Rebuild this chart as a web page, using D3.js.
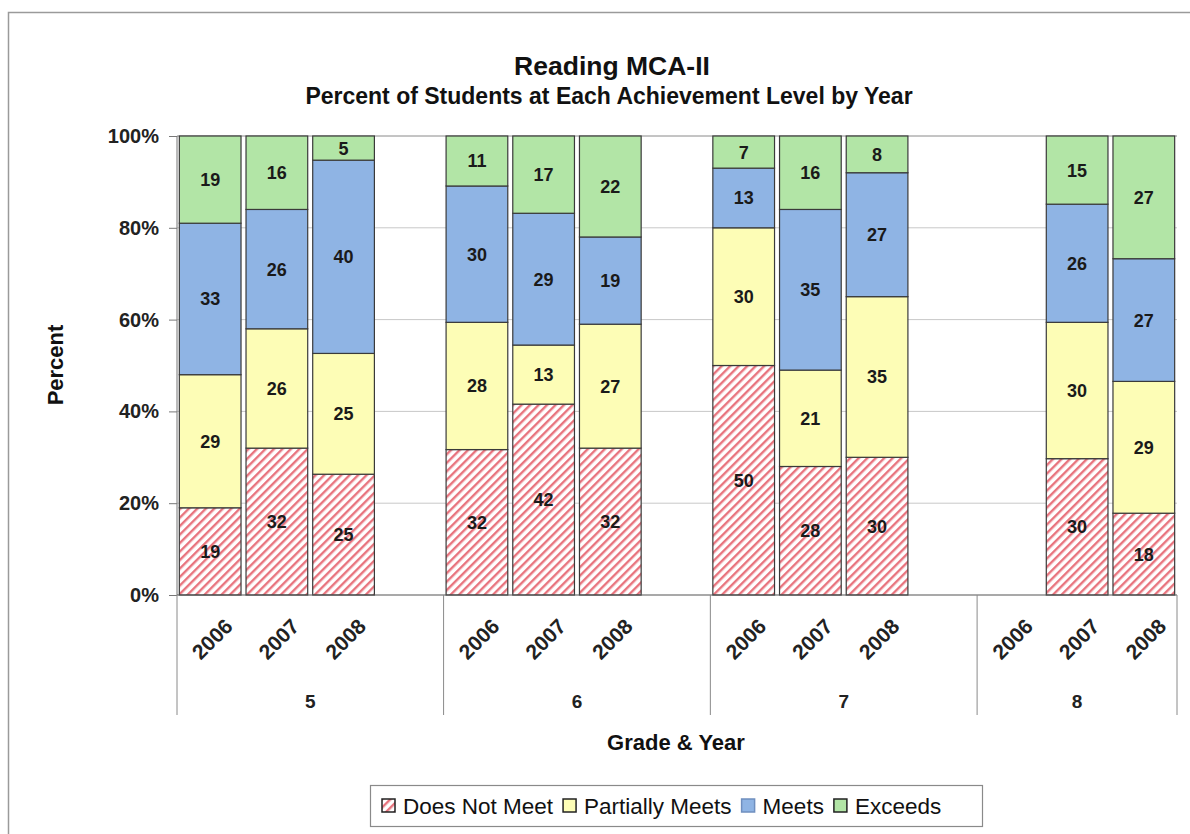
<!DOCTYPE html>
<html><head><meta charset="utf-8">
<script src="https://cdn.jsdelivr.net/npm/d3@7"></script>
<style>body{margin:0;background:#fff}svg{display:block;font-family:Arial,"Liberation Sans",sans-serif}</style>
</head><body>
<svg id="c" width="1190" height="834"></svg>
<script>
const grades = ["5","6","7","8"];
const years = ["2006","2007","2008"];
const seriesNames = ["Does Not Meet","Partially Meets","Meets","Exceeds"];
const doesNotMeet    = [19,32,25, 32,42,32, 50,28,30, null,30,18];
const partiallyMeets = [29,26,25, 28,13,27, 30,21,35, null,30,29];
const meets          = [33,26,40, 30,29,19, 13,35,27, null,26,27];
const exceeds        = [19,16,5,  11,17,22, 7,16,8,   null,15,27];
const yTicks = [0,0.2,0.4,0.6,0.8,1];
const titleText = "Reading MCA-II";
const subtitleText = "Percent of Students at Each Achievement Level by Year";
const xTitle = "Grade & Year";
const yTitle = "Percent";

const colors = ["url(#hatch)","#fdfdb6","#8fb4e4","#b2e5a6"];
const legendStrokes = ["#222","#222","#6f8fbf","#222"];
const seriesVals = [doesNotMeet, partiallyMeets, meets, exceeds];

// build slots: years per grade, spacer between grades
const slots = [];
grades.forEach((g,gi)=>{
  years.forEach((y,yi)=>{
    const idx = gi*years.length+yi;
    slots.push({key:g+"|"+y, grade:g, year:y, vals: seriesVals.map(s=>s[idx])});
  });
  if (gi < grades.length-1) slots.push({key:g+"|", grade:g, year:"", vals:null});
});

const svg = d3.select("#c");
const defs = svg.append("defs");
const pat = defs.append("pattern").attr("id","hatch").attr("patternUnits","userSpaceOnUse")
  .attr("width",6).attr("height",6).attr("patternTransform","rotate(45)");
pat.append("rect").attr("width",6).attr("height",6).attr("fill","#fff");
pat.append("rect").attr("x",0).attr("width",2.4).attr("height",6).attr("fill","#e8747e");

// outer frame
svg.append("rect").attr("x",8.5).attr("y",12.5).attr("width",1200).attr("height",900)
  .attr("fill","none").attr("stroke","#9a9a9a").attr("stroke-width",1.5);

const L=177, R=1177, T=136, B=595;
const x = d3.scaleBand().domain(slots.map(d=>d.key)).range([L,R]).paddingInner(0.075).paddingOuter(0.035);
const y = d3.scaleLinear().domain([0,1]).range([B,T]);

// gridlines
svg.append("g").selectAll("line").data(yTicks.filter(t=>t>0)).join("line")
  .attr("x1",L).attr("x2",R).attr("y1",d=>y(d)).attr("y2",d=>y(d))
  .attr("stroke",d=>d===1?"#8a8a8a":"#c8c8c8").attr("stroke-width",1);

// y axis
const yAxis = d3.axisLeft(y).tickValues(yTicks).tickFormat(d3.format(".0%")).tickSize(8).tickPadding(10);
const ya = svg.append("g").attr("transform",`translate(${L},0)`).call(yAxis);
ya.select(".domain").remove();
ya.selectAll(".tick line").attr("stroke","#777");
ya.selectAll(".tick text").attr("font-size",20).attr("font-weight","bold").attr("fill","#222")
  .attr("font-family","Arial, 'Liberation Sans', sans-serif");

// stacked bars (100% normalized)
const gBars = svg.append("g");
slots.filter(s=>s.vals && s.vals.every(v=>v!=null)).forEach(s=>{
  const total = d3.sum(s.vals);
  let cum = 0;
  s.vals.forEach((v,i)=>{
    const y0 = cum/total, y1 = (cum+v)/total;
    cum += v;
    gBars.append("rect").attr("x",x(s.key)).attr("width",x.bandwidth())
      .attr("y",y(y1)).attr("height",y(y0)-y(y1))
      .attr("fill",colors[i]).attr("stroke","#3a3a3a").attr("stroke-width",1.2);
    gBars.append("text").attr("x",x(s.key)+x.bandwidth()/2).attr("y",(y(y0)+y(y1))/2)
      .attr("dy","0.36em").attr("text-anchor","middle").attr("font-size",18).attr("font-weight","bold")
      .attr("fill","#1a1a1a").text(v);
  });
});

// axis lines
svg.append("line").attr("x1",L).attr("x2",L).attr("y1",T).attr("y2",B).attr("stroke","#777");
svg.append("line").attr("x1",L).attr("x2",R).attr("y1",B).attr("y2",B).attr("stroke","#555").attr("stroke-width",1.2);

// year labels
svg.append("g").selectAll("text").data(slots.filter(s=>s.year)).join("text")
  .attr("transform",d=>`translate(${x(d.key)+x.bandwidth()/2+2},${B+44}) rotate(-45)`)
  .attr("text-anchor","middle").attr("dy","0.35em").attr("font-size",21).attr("font-weight","bold")
  .attr("fill","#222").text(d=>d.year);

// group separators and labels
const step = x.step();
const groupBounds = grades.map(g=>{
  const ks = slots.filter(s=>s.grade===g);
  const first = x(ks[0].key) - x.paddingInner()*step/2;
  const last = x(ks[ks.length-1].key) + x.bandwidth() + x.paddingInner()*step/2;
  return {g, x0: first, x1: last};
});
groupBounds[0].x0 = L; groupBounds[groupBounds.length-1].x1 = R;
const sepXs = [L, ...groupBounds.slice(0,-1).map(d=>d.x1), R];
svg.append("g").selectAll("line").data(sepXs).join("line")
  .attr("x1",d=>d).attr("x2",d=>d).attr("y1",B).attr("y2",715).attr("stroke","#8a8a8a");
svg.append("g").selectAll("text").data(groupBounds).join("text")
  .attr("x",d=>(d.x0+d.x1)/2).attr("y",708).attr("text-anchor","middle")
  .attr("font-size",19).attr("font-weight","bold").attr("fill","#222").text(d=>d.g);

// titles
svg.append("text").attr("x",612).attr("y",75).attr("text-anchor","middle").attr("font-size",26.5)
  .attr("font-weight","bold").attr("fill","#111").text(titleText);
svg.append("text").attr("x",609).attr("y",104).attr("text-anchor","middle").attr("font-size",23)
  .attr("font-weight","bold").attr("fill","#111").text(subtitleText);
svg.append("text").attr("x",676).attr("y",750).attr("text-anchor","middle").attr("font-size",22)
  .attr("font-weight","bold").attr("fill","#111").text(xTitle);
svg.append("text").attr("transform","translate(63,365) rotate(-90)").attr("text-anchor","middle")
  .attr("font-size",22).attr("font-weight","bold").attr("fill","#111").text(yTitle);

// legend
const lg = svg.append("g");
lg.append("rect").attr("x",370.5).attr("y",785.5).attr("width",612).attr("height",41)
  .attr("fill","#fff").attr("stroke","#8a8a8a").attr("stroke-width",1.2);
let lx = 382;
seriesNames.forEach((n,i)=>{
  lg.append("rect").attr("x",lx).attr("y",799).attr("width",13).attr("height",13)
    .attr("fill",colors[i]).attr("stroke",legendStrokes[i]).attr("stroke-width",1.5);
  const t = lg.append("text").attr("x",lx+21).attr("y",814).attr("font-size",22.5).attr("fill","#111").text(n);
  lx += 21 + t.node().getComputedTextLength() + 10;
});
</script>
</body></html>
